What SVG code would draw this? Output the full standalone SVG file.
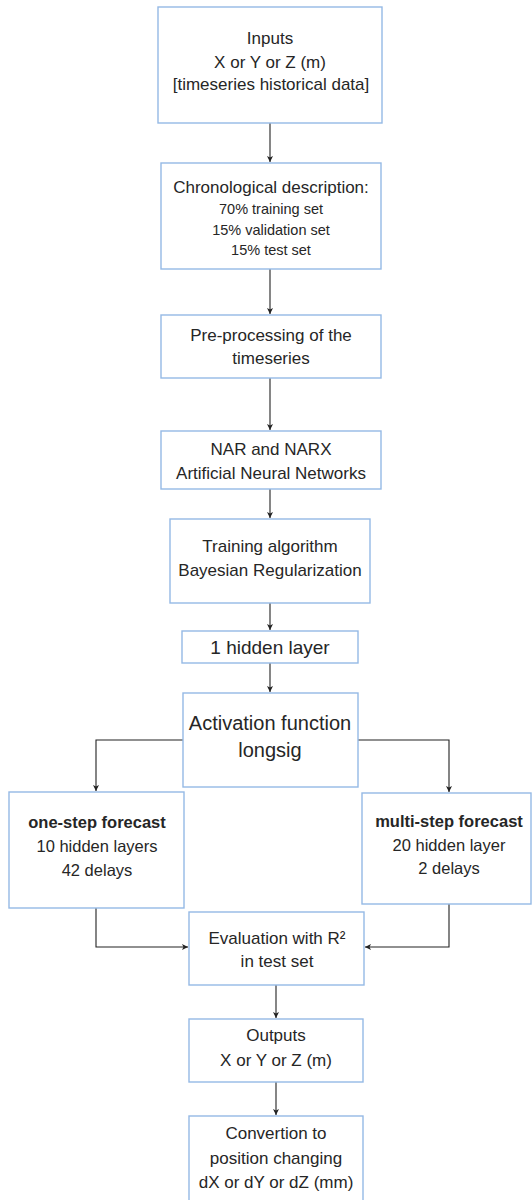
<svg xmlns="http://www.w3.org/2000/svg" width="532" height="1200" viewBox="0 0 532 1200">
<style>
.box{fill:#fff;stroke:#95b9e5;stroke-width:1.4}
text{font-family:"Liberation Sans",Arial,sans-serif;font-size:17px;fill:#262626;text-anchor:middle}
.sm{font-size:14.5px}
.md{font-size:16.5px}
.b{font-weight:bold}
.lg{font-size:19px}
.xl{font-size:20px}
.c{fill:none;stroke:#222;stroke-width:1.1}
</style>
<defs>
<marker id="ah" markerUnits="userSpaceOnUse" markerWidth="8" markerHeight="8" refX="6" refY="3" orient="auto">
<path d="M0,0 L6,3 L0,6 L1.5,3 z" fill="#222"/>
</marker>
</defs>
<rect width="532" height="1200" fill="#fff"/>
<g id="connectors">
<line class="c" x1="270" y1="123" x2="270" y2="162" marker-end="url(#ah)"/>
<line class="c" x1="270" y1="269" x2="270" y2="314" marker-end="url(#ah)"/>
<line class="c" x1="270" y1="378" x2="270" y2="430" marker-end="url(#ah)"/>
<line class="c" x1="270" y1="489" x2="270" y2="518" marker-end="url(#ah)"/>
<line class="c" x1="270" y1="603" x2="270" y2="630" marker-end="url(#ah)"/>
<line class="c" x1="270" y1="663" x2="270" y2="692" marker-end="url(#ah)"/>
<polyline class="c" points="183,740 96,740 96,791" marker-end="url(#ah)"/>
<polyline class="c" points="358,740 449,740 449,792" marker-end="url(#ah)"/>
<polyline class="c" points="96,908 96,947 188,947" marker-end="url(#ah)"/>
<polyline class="c" points="449,904 449,947 365,947" marker-end="url(#ah)"/>
<line class="c" x1="276" y1="985" x2="276" y2="1018" marker-end="url(#ah)"/>
<line class="c" x1="276" y1="1082" x2="276" y2="1115" marker-end="url(#ah)"/>
</g>
<g id="n1">
<rect class="box" x="158" y="7" width="224" height="116"/>
<text x="270" y="44">Inputs</text>
<text x="270" y="68">X or Y or Z (m)</text>
<text x="271" y="90">[timeseries historical data]</text>
</g>
<g id="n2">
<rect class="box" x="161" y="163" width="220" height="106"/>
<text x="271" y="193">Chronological description:</text>
<text class="sm" x="271" y="214">70% training set</text>
<text class="sm" x="271" y="235">15% validation set</text>
<text class="sm" x="271" y="255">15% test set</text>
</g>
<g id="n3">
<rect class="box" x="161" y="315" width="220" height="63"/>
<text x="271" y="341">Pre-processing of the</text>
<text x="271" y="364">timeseries</text>
</g>
<g id="n4">
<rect class="box" x="161" y="431" width="220" height="58"/>
<text x="271" y="455">NAR and NARX</text>
<text x="271" y="479">Artificial Neural Networks</text>
</g>
<g id="n5">
<rect class="box" x="170" y="519" width="200" height="84"/>
<text x="270" y="552">Training algorithm</text>
<text x="270" y="576">Bayesian Regularization</text>
</g>
<g id="n6">
<rect class="box" x="182" y="631" width="176" height="32"/>
<text class="lg" x="270" y="654">1 hidden layer</text>
</g>
<g id="n7">
<rect class="box" x="183" y="693" width="175" height="94"/>
<text class="xl" x="270" y="730">Activation function</text>
<text class="xl" x="270" y="757">longsig</text>
</g>
<g id="n8">
<rect class="box" x="9" y="792" width="175" height="116"/>
<text class="md b" x="97" y="828">one-step forecast</text>
<text class="md" x="97" y="852">10 hidden layers</text>
<text class="md" x="97" y="876">42 delays</text>
</g>
<g id="n9">
<rect class="box" x="362" y="793" width="169" height="111"/>
<text class="md b" x="449" y="827">multi-step forecast</text>
<text class="md" x="449" y="851">20 hidden layer</text>
<text class="md" x="449" y="874">2 delays</text>
</g>
<g id="n10">
<rect class="box" x="189" y="912" width="175" height="73"/>
<text x="277" y="944">Evaluation with R²</text>
<text x="277" y="967">in test set</text>
</g>
<g id="n11">
<rect class="box" x="189" y="1019" width="174" height="63"/>
<text x="276" y="1041">Outputs</text>
<text x="276" y="1066">X or Y or Z (m)</text>
</g>
<g id="n12">
<rect class="box" x="189" y="1116" width="174" height="95"/>
<text x="276" y="1139">Convertion to</text>
<text x="276" y="1164">position changing</text>
<text x="276" y="1188">dX or dY or dZ (mm)</text>
</g>
</svg>
